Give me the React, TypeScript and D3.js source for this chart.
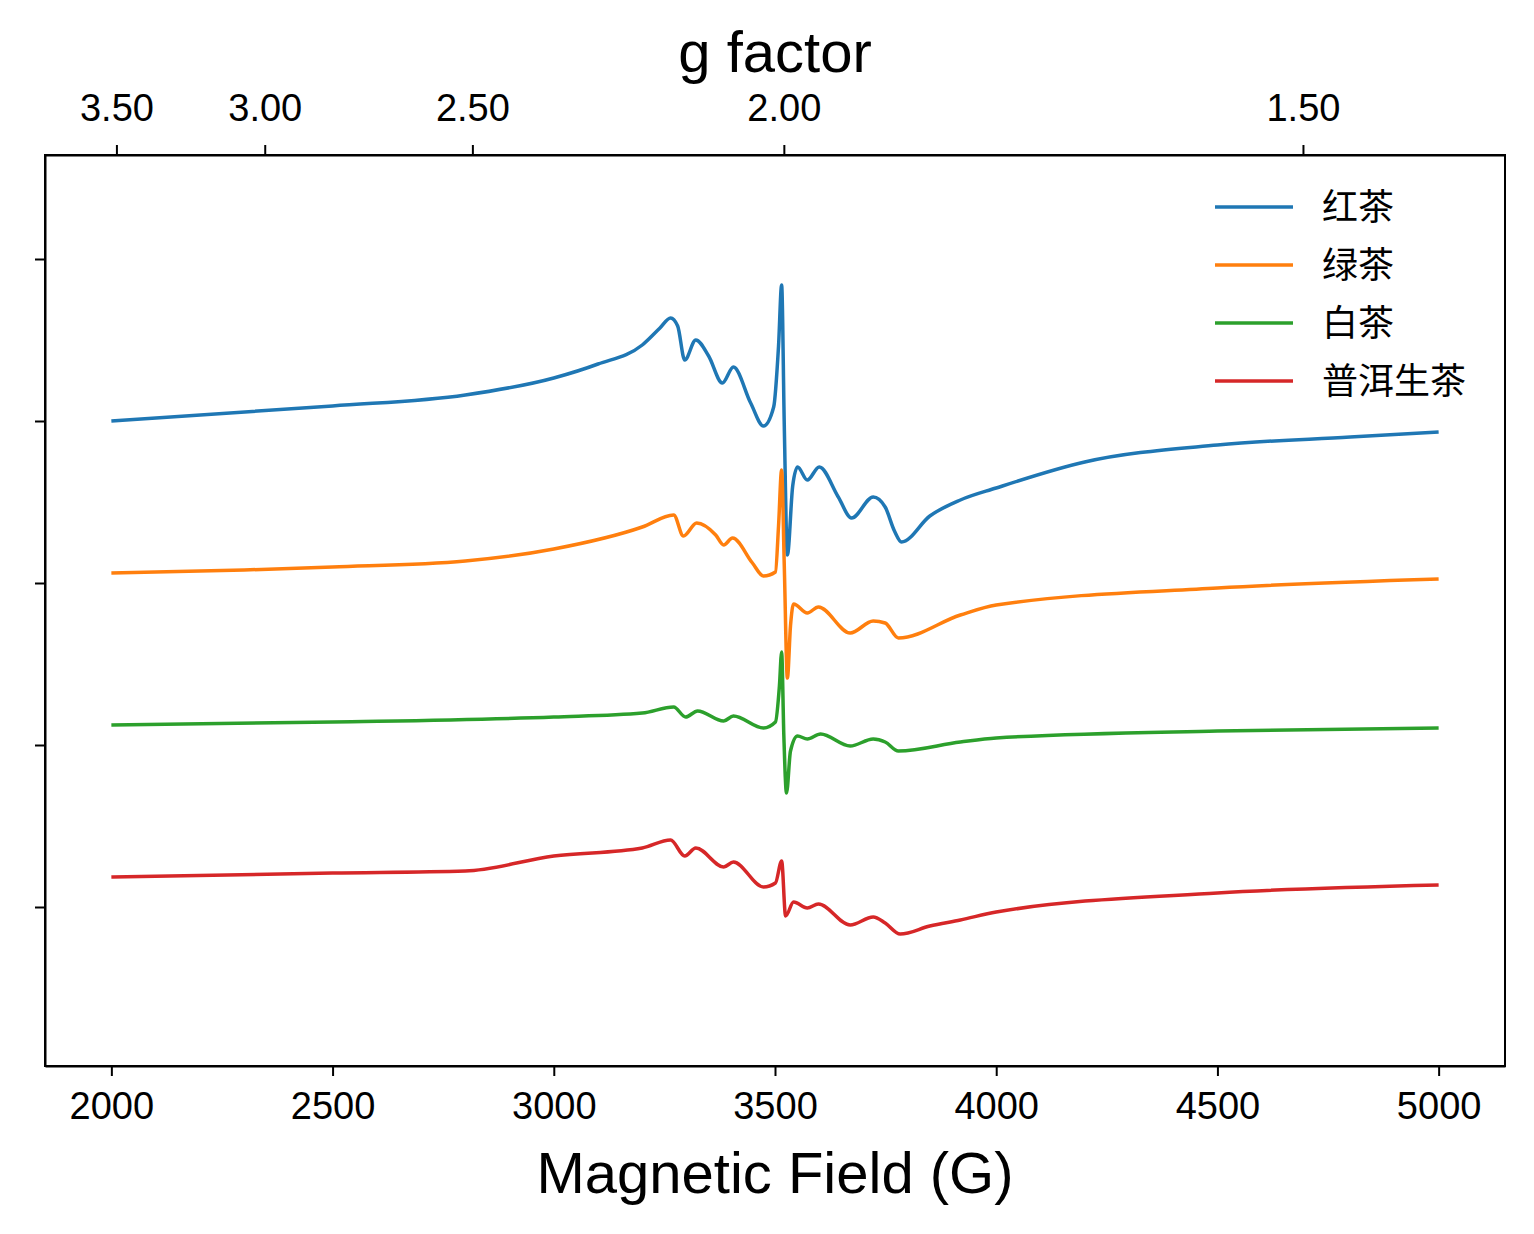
import { useRef, useEffect } from 'react';
import * as d3 from 'd3';

// EPR spectra, intensity in arbitrary units (offset per sample)
const blueField = [2000, 2500, 2800, 3000, 3100, 3200, 3240, 3264, 3280, 3296, 3321, 3350, 3381, 3406, 3445, 3474, 3497, 3508, 3515, 3521, 3528, 3540, 3551, 3573, 3600, 3643, 3673, 3722, 3749, 3770, 3786, 3850, 3919, 4000, 4200, 4500, 4800, 5000];
const blueValues = [645, 660, 671, 688, 702, 721, 738, 748, 740, 706, 726, 710, 683, 699, 663, 640, 659, 720, 781, 640, 511, 580, 599, 586, 599, 569, 548, 569, 559, 535, 524, 550, 566, 578, 604, 621, 629, 634];

const orangeField = [2000, 2300, 2500, 2800, 3000, 3200, 3271, 3293, 3323, 3366, 3384, 3404, 3449, 3474, 3501, 3508, 3515, 3521, 3528, 3535, 3542, 3573, 3598, 3670, 3722, 3749, 3779, 3919, 4000, 4500, 5000];
const orangeValues = [493, 496, 499, 505, 517, 539, 551, 530, 543, 531, 521, 528, 503, 490, 494, 540, 596, 500, 388, 440, 462, 453, 459, 433, 445, 443, 428, 451, 461, 478, 487];

const greenField = [2000, 2500, 3000, 3200, 3271, 3298, 3325, 3384, 3406, 3474, 3501, 3510, 3515, 3520, 3526, 3535, 3551, 3573, 3603, 3670, 3722, 3749, 3779, 3919, 4000, 4500, 5000];
const greenValues = [341, 344, 349, 353, 359, 349, 355, 345, 350, 338, 344, 380, 414, 330, 273, 315, 330, 327, 332, 320, 327, 324, 315, 324, 328, 335, 338];

const redField = [2000, 2500, 2800, 3000, 3200, 3264, 3296, 3321, 3384, 3406, 3474, 3501, 3515, 3524, 3542, 3573, 3598, 3670, 3722, 3749, 3783, 3850, 3919, 4000, 4500, 5000];
const redValues = [189, 193, 195, 210, 218, 226, 210, 218, 199, 204, 179, 183, 205, 150, 164, 158, 162, 141, 149, 143, 132, 140, 146, 154, 173, 181];

const seriesNames = ['红茶', '绿茶', '白茶', '普洱生茶'];
const seriesColors = ['#1f77b4', '#ff7f0e', '#2ca02c', '#d62728'];
const fieldTicks = [2000, 2500, 3000, 3500, 4000, 4500, 5000];
const gTicks = [3.5, 3.0, 2.5, 2.0, 1.5];
const yTicks = [159, 321, 483, 645, 807];
const gConst = 7040; // g * B (G)

export default function App() {
  const ref = useRef<SVGSVGElement>(null);

  useEffect(() => {
    if (!ref.current) return;
    const width = 1534;
    const height = 1234;
    const margin = { top: 155, right: 29, bottom: 168, left: 45 };
    const font = '"Liberation Sans", Arial, sans-serif';

    const svg = d3.select(ref.current);
    svg.selectAll('*').remove();
    svg.attr('width', width).attr('height', height);

    const x = d3.scaleLinear().domain([1850, 5150]).range([margin.left, width - margin.right]);
    const y = d3.scaleLinear().domain([0, 911]).range([height - margin.bottom, margin.top]);

    const series = [
      { field: blueField, values: blueValues },
      { field: orangeField, values: orangeValues },
      { field: greenField, values: greenValues },
      { field: redField, values: redValues },
    ];

    const line = d3
      .line<[number, number]>()
      .x((d) => x(d[0]))
      .y((d) => y(d[1]))
      .curve(d3.curveMonotoneX);

    series.forEach((s, i) => {
      svg
        .append('path')
        .datum(s.field.map((f, j) => [f, s.values[j]] as [number, number]))
        .attr('fill', 'none')
        .attr('stroke', seriesColors[i])
        .attr('stroke-width', 3.5)
        .attr('stroke-linejoin', 'round')
        .attr('d', line);
    });

    const styleAxis = (g: any) => {
      g.selectAll('path').attr('stroke', '#000').attr('stroke-width', 2);
      g.selectAll('line').attr('stroke', '#000').attr('stroke-width', 2);
      g.selectAll('text').attr('font-family', font).attr('font-size', 38).attr('fill', '#000');
    };

    svg
      .append('g')
      .attr('transform', `translate(0,${height - margin.bottom})`)
      .call(d3.axisBottom(x).tickValues(fieldTicks).tickFormat(d3.format('d')).tickSize(10).tickPadding(16).tickSizeOuter(0))
      .call(styleAxis);

    svg
      .append('g')
      .attr('transform', `translate(${margin.left},0)`)
      .call(d3.axisLeft(y).tickValues(yTicks).tickSize(10).tickFormat(() => '').tickSizeOuter(0))
      .call(styleAxis);

    svg
      .append('g')
      .attr('transform', `translate(0,${margin.top})`)
      .call(
        d3
          .axisTop(x)
          .tickValues(gTicks.map((g) => gConst / g))
          .tickFormat((d: any) => (gConst / d).toFixed(2))
          .tickSize(10)
          .tickPadding(24)
          .tickSizeOuter(0),
      )
      .call(styleAxis);

    svg
      .append('rect')
      .attr('x', margin.left)
      .attr('y', margin.top)
      .attr('width', width - margin.left - margin.right)
      .attr('height', height - margin.top - margin.bottom)
      .attr('fill', 'none')
      .attr('stroke', '#000')
      .attr('stroke-width', 2);

    svg
      .append('text')
      .attr('x', (margin.left + width - margin.right) / 2)
      .attr('y', 1193)
      .attr('text-anchor', 'middle')
      .attr('font-family', font)
      .attr('font-size', 58)
      .text('Magnetic Field (G)');

    svg
      .append('text')
      .attr('x', (margin.left + width - margin.right) / 2)
      .attr('y', 72)
      .attr('text-anchor', 'middle')
      .attr('font-family', font)
      .attr('font-size', 58)
      .text('g factor');

    const legend = svg.append('g');
    seriesNames.forEach((name, i) => {
      const ly = 207 + i * 58;
      legend
        .append('line')
        .attr('x1', 1215)
        .attr('x2', 1293)
        .attr('y1', ly)
        .attr('y2', ly)
        .attr('stroke', seriesColors[i])
        .attr('stroke-width', 3.5);
      legend
        .append('text')
        .attr('x', 1322)
        .attr('y', ly + 13)
        .attr('font-family', '"Noto Sans CJK SC", sans-serif')
        .attr('font-size', 36)
        .text(name);
    });
  }, []);

  return <svg ref={ref} style={{ position: 'absolute', left: 0, top: 0 }}></svg>;
}
